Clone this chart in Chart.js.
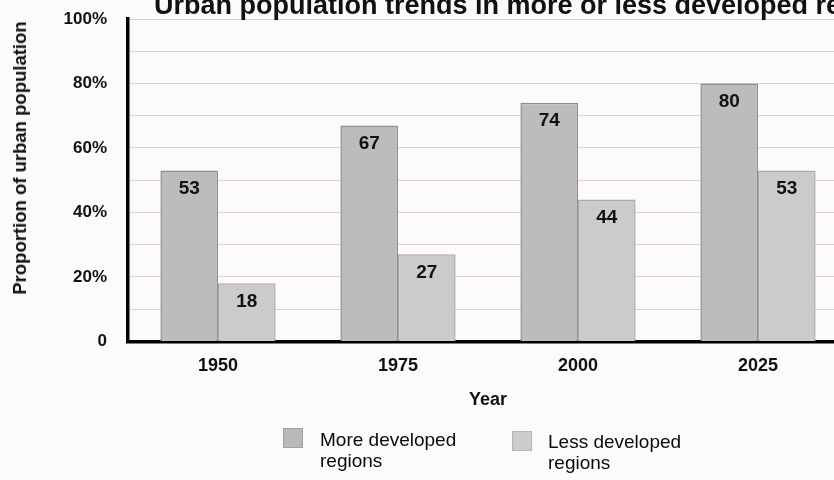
<!DOCTYPE html>
<html>
<head>
<meta charset="utf-8">
<script src="https://cdn.jsdelivr.net/npm/chart.js@4.4.1/dist/chart.umd.min.js"></script>
<style>
  html, body { margin: 0; padding: 0; width: 834px; height: 480px; overflow: hidden; background: #fbfbfb; }
  #wrap { position: relative; width: 834px; height: 480px; overflow: hidden; }
  canvas { position: absolute; left: 0; top: -40px; }
  #title { position: absolute; top: -8px; left: 154px; white-space: nowrap; line-height: 27px;
    font-family: "Liberation Sans", Arial, sans-serif; font-weight: bold; font-size: 27px; color: #111; }
  #ytitle { position: absolute; left: 20px; top: 158px; transform: translate(-50%, -50%) rotate(-90deg);
    white-space: nowrap; font-family: "Liberation Sans", Arial, sans-serif; font-weight: bold; font-size: 18.5px; color: #111; }
  .leg { position: absolute; font-family: "Liberation Sans", Arial, sans-serif; font-size: 19px; line-height: 21px; color: #0a0a0a; }
  .box { position: absolute; width: 18px; height: 18px; }
</style>
</head>
<body>
<div id="wrap">
  <canvas id="c" width="870" height="520"></canvas>
  <div id="title">Urban population trends in more or less developed regions</div>
  <div id="ytitle">Proportion of urban population</div>
  <div class="box" style="left:283px; top:428px; background:#b9b9b9; border:1px solid #a0a0a0;"></div>
  <div class="leg" style="left:320px; top:429px;">More developed<br>regions</div>
  <div class="box" style="left:512px; top:431px; background:#cdcdcd; border:1px solid #b5b5b5;"></div>
  <div class="leg" style="left:548px; top:431px;">Less developed<br>regions</div>
</div>
<script>
const categories = ['1950', '1975', '2000', '2025'];
const moreDeveloped = [53, 67, 74, 80];
const lessDeveloped = [18, 27, 44, 53];
const yTickLabels = { 0: '0', 20: '20%', 40: '40%', 60: '60%', 80: '80%', 100: '100%' };
const seriesNames = ['More developed regions', 'Less developed regions'];

// canvas is offset 40px upward; desired plot area in canvas coordinates
const CANVAS_OFFSET = 40;
const AREA_TOP = 19 + CANVAS_OFFSET;
const AREA_BOTTOM = 341 + CANVAS_OFFSET;

const valueLabels = {
  id: 'valueLabels',
  afterDatasetsDraw(chart) {
    const ctx = chart.ctx;
    ctx.save();
    ctx.font = 'bold 19px "Liberation Sans", Arial, sans-serif';
    ctx.fillStyle = '#111';
    ctx.textAlign = 'center';
    ctx.textBaseline = 'middle';
    chart.data.datasets.forEach((ds, i) => {
      chart.getDatasetMeta(i).data.forEach((bar, j) => {
        ctx.fillText(String(ds.data[j]), bar.x, bar.y + 18);
      });
    });
    ctx.restore();
  }
};

const chart = new Chart(document.getElementById('c'), {
  type: 'bar',
  data: {
    labels: categories,
    datasets: [
      { label: seriesNames[0], data: moreDeveloped, backgroundColor: '#bcbcbc', borderColor: '#8e8e8e', borderWidth: 1.5,
        barPercentage: 1, categoryPercentage: 0.64 },
      { label: seriesNames[1], data: lessDeveloped, backgroundColor: '#cbcbcb', borderColor: '#aaaaaa', borderWidth: 1.5,
        barPercentage: 1, categoryPercentage: 0.64 }
    ]
  },
  options: {
    responsive: false,
    animation: false,
    layout: { autoPadding: false, padding: { top: AREA_TOP, right: 22, left: 0, bottom: 71 } },
    plugins: { legend: { display: false }, title: { display: false }, tooltip: { enabled: false } },
    scales: {
      x: {
        grid: { display: false, drawTicks: false },
        border: { color: '#000', width: 3.5 },
        ticks: { color: '#111', padding: 14, font: { family: '"Liberation Sans", Arial, sans-serif', size: 18, weight: 'bold' } },
        title: { display: true, text: 'Year', color: '#111', padding: { top: 0, bottom: 0 },
          font: { family: '"Liberation Sans", Arial, sans-serif', size: 18, weight: 'bold', lineHeight: 1 } }
      },
      y: {
        min: 0, max: 100,
        afterFit(scale) { scale.width = 128; },
        grid: { color: 'rgba(200,150,160,0.45)', lineWidth: 1, drawTicks: false },
        border: { color: '#000', width: 3.5, dash: [] },
        ticks: { stepSize: 10, padding: 21, color: '#111', autoSkip: false,
          font: { family: '"Liberation Sans", Arial, sans-serif', size: 17, weight: 'bold' },
          callback: (v) => (yTickLabels[v] !== undefined ? yTickLabels[v] : '') },
        title: { display: false }
      }
    }
  },
  plugins: [valueLabels]
});

// nudge layout padding so the plot area lands exactly where the reference has it
for (let i = 0; i < 4; i++) {
  const ca = chart.chartArea;
  const dt = AREA_TOP - ca.top;
  const db = ca.bottom - AREA_BOTTOM;
  if (Math.abs(dt) < 0.5 && Math.abs(db) < 0.5) break;
  const p = chart.options.layout.padding;
  chart.options.layout.padding = { top: p.top + dt, right: p.right, left: p.left, bottom: p.bottom + db };
  chart.update('none');
}
</script>
</body>
</html>
